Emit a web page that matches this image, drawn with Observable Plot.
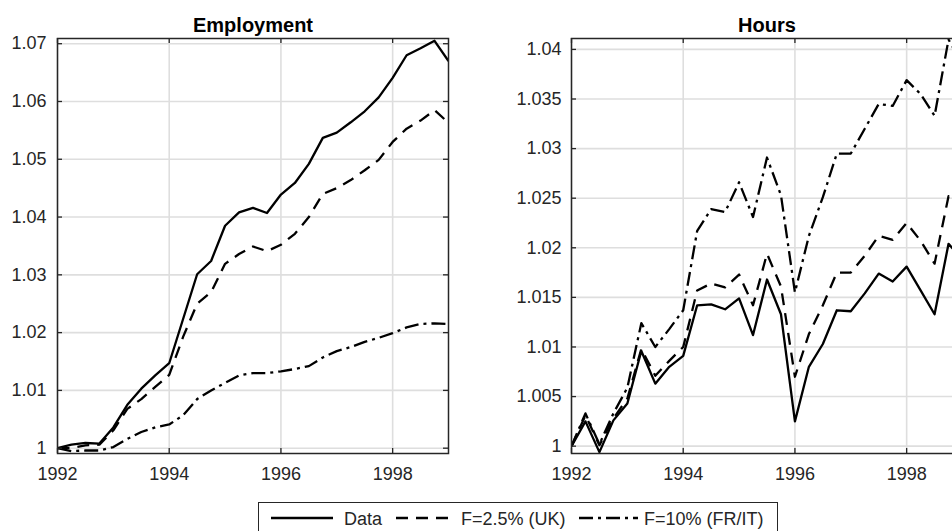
<!DOCTYPE html>
<html><head><meta charset="utf-8">
<script src="https://cdn.jsdelivr.net/npm/d3@7"></script>
<script src="https://cdn.jsdelivr.net/npm/@observablehq/plot@0.6"></script>
<style>
html,body{margin:0;padding:0;background:#fff;}
body{width:952px;height:531px;overflow:hidden;position:relative;font-family:"Liberation Sans",Arial,sans-serif;}
#left,#right{position:absolute;top:0;}
#left{left:0;width:462px}
#right{left:476px;width:500px}
#left svg,#right svg{max-width:none !important;display:block}
#legend{position:absolute;left:258px;top:502px;width:520px;height:40px;border:1.5px solid #262626;background:#fff;box-sizing:border-box;}
#legend svg{display:block}
</style></head><body>
<div id="left"></div><div id="right"></div><div id="legend"></div>
<script>
const quarters = [1992,1992.25,1992.5,1992.75,1993,1993.25,1993.5,1993.75,1994,1994.25,1994.5,1994.75,1995,1995.25,1995.5,1995.75,1996,1996.25,1996.5,1996.75,1997,1997.25,1997.5,1997.75,1998,1998.25,1998.5,1998.75,1999];

const seriesNames = ["Data", "F=2.5% (UK)", "F=10% (FR/IT)"];
const seriesDash = [null, "12,8", "14,5,3,5"];

const empData = [1.0000,1.0006,1.0009,1.0008,1.0036,1.0075,1.0103,1.0126,1.0147,1.0224,1.0301,1.0324,1.0385,1.0408,1.0416,1.0407,1.0439,1.0459,1.0492,1.0537,1.0546,1.0564,1.0583,1.0607,1.0641,1.0680,1.0692,1.0705,1.0670];
const empUK = [1.0000,1.0000,1.0005,1.0006,1.0031,1.0068,1.0085,1.0106,1.0127,1.0193,1.0250,1.0270,1.0319,1.0336,1.0349,1.0341,1.0352,1.0371,1.0400,1.0440,1.0450,1.0464,1.0481,1.0499,1.0530,1.0553,1.0567,1.0585,1.0563];
const empFRIT = [1.0000,0.9995,0.9996,0.9996,1.0002,1.0016,1.0028,1.0036,1.0041,1.0057,1.0085,1.0100,1.0113,1.0126,1.0130,1.0130,1.0133,1.0137,1.0142,1.0157,1.0168,1.0175,1.0184,1.0191,1.0199,1.0209,1.0215,1.0216,1.0215];

const hoursData = [1.0000,1.0025,0.9994,1.0026,1.0043,1.0096,1.0063,1.0080,1.0091,1.0142,1.0143,1.0138,1.0149,1.0112,1.0168,1.0133,1.0025,1.0080,1.0103,1.0137,1.0136,1.0154,1.0174,1.0166,1.0181,1.0157,1.0133,1.0204,1.0188];
const hoursUK = [1.0000,1.0031,1.0001,1.0028,1.0048,1.0098,1.0071,1.0086,1.0100,1.0157,1.0164,1.0160,1.0173,1.0142,1.0194,1.0161,1.0070,1.0113,1.0142,1.0175,1.0175,1.0192,1.0212,1.0208,1.0225,1.0207,1.0184,1.0252,1.0240];
const hoursFRIT = [1.0000,1.0033,1.0002,1.0033,1.0059,1.0124,1.0100,1.0118,1.0137,1.0217,1.0239,1.0236,1.0266,1.0231,1.0291,1.0253,1.0155,1.0212,1.0251,1.0295,1.0295,1.0320,1.0345,1.0343,1.0369,1.0355,1.0333,1.0410,1.0385];

const xTicks = [1992, 1994, 1996, 1998];
const empTicks = [1, 1.01, 1.02, 1.03, 1.04, 1.05, 1.06, 1.07];
const hoursTicks = [1, 1.005, 1.01, 1.015, 1.02, 1.025, 1.03, 1.035, 1.04];

const empDomain = [0.99908, 1.0709];
const hoursDomain = [0.99926, 1.0411];

const FONT = "'Liberation Sans', Arial, Helvetica, sans-serif";
const AX = "#262626";

function panel(title, values, yDomain, yTicks, marginLeft, yPad) {
  const plotW = 391, plotH = 415, mt = 38, mb = 30, mr = 14;
  const rows = [];
  seriesNames.forEach((s, k) => quarters.forEach((q, i) => rows.push({q, v: values[k][i], s})));
  const lines = seriesNames.map((s, k) =>
    Plot.line(rows.filter(r => r.s === s), {
      x: "q", y: "v", stroke: "black", strokeWidth: 2.3,
      strokeDasharray: seriesDash[k] ?? undefined,
      strokeLinecap: "butt", strokeLinejoin: "round", clip: true
    })
  );
  return Plot.plot({
    width: marginLeft + plotW + mr, height: mt + plotH + mb,
    marginTop: mt, marginBottom: mb, marginLeft, marginRight: mr,
    x: {domain: [1992, 1999]},
    y: {domain: yDomain},
    style: {fontFamily: FONT, fontSize: "18px", color: AX, background: "white", overflow: "visible"},
    marks: [
      Plot.gridX(xTicks, {stroke: "#dedede", strokeOpacity: 1, strokeWidth: 1.6}),
      Plot.gridY(yTicks, {stroke: "#dedede", strokeOpacity: 1, strokeWidth: 1.6}),
      ...lines,
      Plot.tickX(xTicks, {x: d => d, insetTop: plotH - 5, stroke: AX, strokeWidth: 1.3}),
      Plot.tickX(xTicks, {x: d => d, insetBottom: plotH - 5, stroke: AX, strokeWidth: 1.3}),
      Plot.tickY(yTicks, {y: d => d, insetRight: plotW - 5, stroke: AX, strokeWidth: 1.3}),
      Plot.tickY(yTicks, {y: d => d, insetLeft: plotW - 5, stroke: AX, strokeWidth: 1.3}),
      Plot.frame({stroke: AX, strokeWidth: 1.5}),
      Plot.axisX(xTicks, {anchor: "bottom", tickSize: 0, tickPadding: 14, tickFormat: d => String(d), label: null, fontSize: 18, fill: AX}),
      Plot.axisY(yTicks, {anchor: "left", tickSize: 0, tickPadding: yPad, tickFormat: d => String(+d.toFixed(4)), label: null, fontSize: 18, fill: AX}),
      Plot.text([title], {text: d => d, frameAnchor: "top", lineAnchor: "bottom", dy: -7, fontWeight: "bold", fontSize: 20, fill: "black"})
    ]
  });
}

document.getElementById("left").append(
  panel("Employment", [empData, empUK, empFRIT], empDomain, empTicks, 57, 11)
);
document.getElementById("right").append(
  panel("Hours", [hoursData, hoursUK, hoursFRIT], hoursDomain, hoursTicks, 95, 10)
);

// legend
const legendSamples = [[12, 74, 85], [137, 195, 202], [320, 379, 385]];
const ns = "http://www.w3.org/2000/svg";
const lsvg = document.createElementNS(ns, "svg");
lsvg.setAttribute("width", 517); lsvg.setAttribute("height", 36);
seriesNames.forEach((s, k) => {
  const [x1, x2, tx] = legendSamples[k];
  const ln = document.createElementNS(ns, "line");
  ln.setAttribute("x1", x1); ln.setAttribute("x2", x2);
  ln.setAttribute("y1", 15); ln.setAttribute("y2", 15);
  ln.setAttribute("stroke", "black"); ln.setAttribute("stroke-width", 2.3);
  if (seriesDash[k]) ln.setAttribute("stroke-dasharray", seriesDash[k]);
  lsvg.append(ln);
  const t = document.createElementNS(ns, "text");
  t.setAttribute("x", tx); t.setAttribute("y", 21.5);
  t.setAttribute("font-family", FONT); t.setAttribute("font-size", 18);
  t.setAttribute("fill", AX);
  t.textContent = s;
  lsvg.append(t);
});
document.getElementById("legend").append(lsvg);
</script>
</body></html>
